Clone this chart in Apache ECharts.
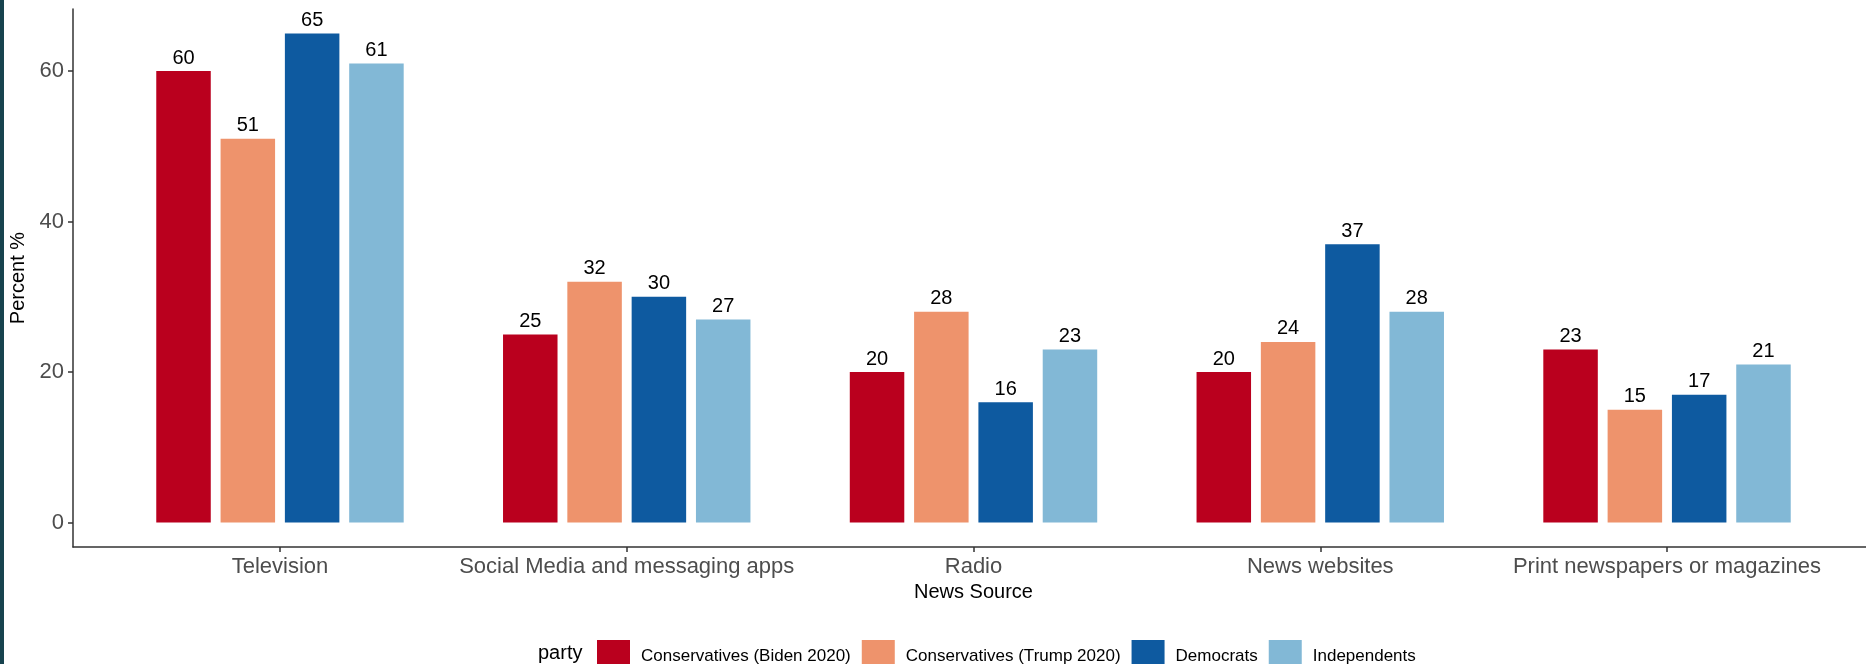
<!DOCTYPE html>
<html>
<head>
<meta charset="utf-8">
<script src="https://cdn.jsdelivr.net/npm/echarts@6/dist/echarts.min.js"></script>
<style>
  html, body { margin: 0; padding: 0; background: #ffffff; }
  #chart { position: absolute; left: 0; top: 0; width: 1866px; height: 664px; }
  #strip { position: absolute; left: 0; top: 0; width: 4px; height: 664px; background: #17434e; }
</style>
</head>
<body>
<div id="chart"></div>
<div id="strip"></div>
<script>
const categories = ['Television', 'Social Media and messaging apps', 'Radio', 'News websites', 'Print newspapers or magazines'];
const seriesNames = ['Conservatives (Biden 2020)', 'Conservatives (Trump 2020)', 'Democrats', 'Independents'];
const conservativesBiden = [60, 25, 20, 20, 23];
const conservativesTrump = [51, 32, 28, 24, 15];
const democrats = [65, 30, 16, 37, 17];
const independents = [61, 27, 23, 28, 21];
const yTicks = [0, 20, 40, 60];
const colors = ['#BA001E', '#EE936C', '#0E5AA0', '#82B8D6'];

const yMin = -3.25, yMax = 68.25;
const FONT = "'Liberation Sans', Arial, sans-serif";
const values = [conservativesBiden, conservativesTrump, democrats, independents];

const chart = echarts.init(document.getElementById('chart'), null, { renderer: 'canvas' });
chart.setOption({
  animation: false,
  backgroundColor: 'transparent',
  color: colors,
  textStyle: { fontFamily: FONT },
  title: {
    text: 'party', left: 533, top: 638,
    textStyle: { fontSize: 20, fontWeight: 'normal', color: '#000', fontFamily: FONT }
  },
  legend: {
    data: seriesNames,
    left: 592, top: 635,
    itemWidth: 33, itemHeight: 33, itemGap: 11,
    icon: 'rect',
    textStyle: { fontSize: 17, color: '#000', fontFamily: FONT, padding: [0, 0, 0, 6] }
  },
  grid: [
    { left: 73, right: 0, top: 9, bottom: 117, containLabel: false },
    { left: 106.6, right: 25.6, top: 9, bottom: 117, containLabel: false }
  ],
  xAxis: [
    {
      gridIndex: 0, type: 'value', min: 0, max: 1,
      axisLine: { show: true, onZero: false, lineStyle: { color: '#333', width: 1.5 } },
      axisTick: { show: false }, axisLabel: { show: false }, splitLine: { show: false }
    },
    {
      gridIndex: 1, type: 'category', data: categories,
      axisLine: { show: false, onZero: false },
      axisTick: { show: true, alignWithLabel: true, length: 5, lineStyle: { color: '#333', width: 1.5 } },
      axisLabel: { color: '#4d4d4d', fontSize: 22, margin: 9, fontFamily: FONT, interval: 0 },
      name: 'News Source', nameLocation: 'middle', nameGap: 33,
      nameTextStyle: { color: '#000', fontSize: 20, fontFamily: FONT },
      splitLine: { show: false }
    }
  ],
  yAxis: [
    {
      gridIndex: 0, type: 'value', min: yMin, max: yMax,
      axisLine: { show: true, lineStyle: { color: '#333', width: 1.5 } },
      axisTick: { show: true, length: 5, customValues: yTicks, lineStyle: { color: '#333', width: 1.5 } },
      axisLabel: { show: true, customValues: yTicks, color: '#4d4d4d', fontSize: 22, margin: 9, fontFamily: FONT },
      splitLine: { show: false },
      name: 'Percent %', nameLocation: 'middle', nameGap: 43, nameRotate: 90,
      nameTextStyle: { color: '#000', fontSize: 20, fontFamily: FONT }
    },
    {
      gridIndex: 1, type: 'value', min: yMin, max: yMax, show: false,
      splitLine: { show: false }
    }
  ],
  series: seriesNames.map((name, i) => ({
    name: name,
    type: 'bar',
    xAxisIndex: 1, yAxisIndex: 1,
    data: values[i],
    barWidth: 54.5,
    barGap: '18%',
    itemStyle: { color: colors[i] },
    label: { show: true, position: 'top', distance: 3, color: '#000', fontSize: 20, fontFamily: FONT }
  }))
});
</script>
</body>
</html>
